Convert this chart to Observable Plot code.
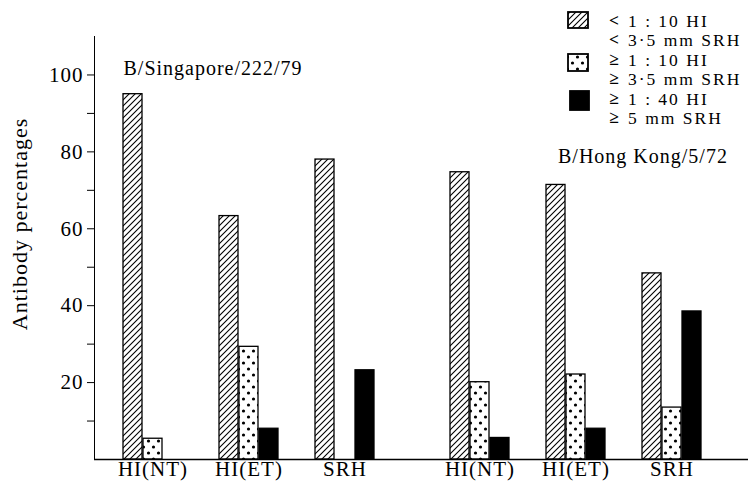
<!DOCTYPE html>
<html><head><meta charset="utf-8">
<script src="https://cdn.jsdelivr.net/npm/d3@7"></script>
<script src="https://cdn.jsdelivr.net/npm/@observablehq/plot@0.6"></script>
<style>
html,body{margin:0;padding:0;background:#fff;}
#chart{position:relative;width:748px;height:486px;overflow:hidden;font-family:"Liberation Serif",serif;}
</style></head><body>
<svg width="0" height="0" style="position:absolute">
<defs>
<pattern id="hatch" patternUnits="userSpaceOnUse" width="6" height="6">
<path d="M-1,1 L1,-1 M0,6 L6,0 M5,7 L7,5" stroke="#000" stroke-width="1.1" fill="none"/>
</pattern>
<pattern id="dots" patternUnits="userSpaceOnUse" width="10" height="12">
<circle cx="2.5" cy="3" r="1.6" fill="#000"/><circle cx="7.5" cy="9" r="1.6" fill="#000"/>
</pattern>
</defs></svg>
<div id="chart"></div>
<script>
const strains = ["B/Singapore/222/79", "B/Hong Kong/5/72"];
const tests = ["HI(NT)", "HI(ET)", "SRH"];
const levels = ["low", "mid", "high"];
// Singapore
const sgLow = [95, 63.3, 78];
const sgMid = [5.4, 29.3, 0];
const sgHigh = [0, 8, 23.2];
// Hong Kong
const hkLow = [74.7, 71.4, 48.4];
const hkMid = [20.1, 22.1, 13.5];
const hkHigh = [5.6, 8, 38.5];
const yTicks = [10, 20, 30, 40, 50, 60, 70, 80, 90, 100];
const yTickLabels = [20, 40, 60, 80, 100];
const yLabel = "Antibody percentages";
const legendSymbols = ["<", "<", "≥", "≥", "≥", "≥"];
const legendLines = ["1 : 10 HI", "3·5 mm SRH", "1 : 10 HI", "3·5 mm SRH", "1 : 40 HI", "5 mm SRH"];

const fills = {low: "url(#hatch)", mid: "url(#dots)", high: "#000"};
const insets = {low: [0, 40], mid: [20, 20], high: [40, 0]};

const rows = [];
strains.forEach((s, si) => {
  const arrs = si === 0 ? [sgLow, sgMid, sgHigh] : [hkLow, hkMid, hkHigh];
  levels.forEach((lv, li) => tests.forEach((t, ti) => rows.push({strain: s, test: t, level: lv, value: arrs[li][ti]})));
});

const plot = Plot.plot({
  width: 748, height: 486,
  marginLeft: 93, marginRight: 0, marginTop: 36, marginBottom: 27,
  style: {fontFamily: "Liberation Serif", fontSize: "21px", color: "#000", background: "#fff", letterSpacing: "1px"},
  fx: {domain: strains, padding: 0, axis: null, label: null},
  x: {domain: tests, paddingInner: 0.381, paddingOuter: 0.379, align: 0.38, tickSize: 0, tickPadding: 2, label: null},
  y: {domain: [0, 110], ticks: yTicks, tickFormat: d => yTickLabels.includes(d) ? String(d) : "", tickSize: 7, tickPadding: 4, label: null, line: true},
  marks: [
    ...levels.map(lv => Plot.barY(rows.filter(d => d.level === lv && d.value > 0), {
      fx: "strain", x: "test", y: "value", fill: fills[lv], stroke: "#000", strokeWidth: 1.3,
      insetLeft: insets[lv][0], insetRight: insets[lv][1]
    })),
    Plot.ruleY([0], {stroke: "#000", strokeWidth: 1.6}),
    Plot.text([strains[0]], {fx: d => d, text: d => d, frameAnchor: "top-left", textAnchor: "start", dx: 29, dy: 24, fontSize: 20}),
    Plot.text([strains[1]], {fx: d => d, text: d => d, frameAnchor: "top-left", textAnchor: "start", dx: 136.5, dy: 112, fontSize: 20}),
    Plot.text([yLabel], {fx: () => strains[0], text: d => d, frameAnchor: "left", rotate: -90, textAnchor: "middle", dx: -74.5, dy: -24, fontSize: 22})
  ]
});
document.getElementById("chart").appendChild(plot);

// legend
const leg = d3.select("#chart").append("svg")
  .attr("width", 748).attr("height", 486)
  .style("position", "absolute").style("left", "0px").style("top", "0px")
  .style("font-family", "Liberation Serif");
const sw = [
  {level: "low", x: 568, y: 12, w: 20, h: 16},
  {level: "mid", x: 568, y: 54, w: 20, h: 17},
  {level: "high", x: 570, y: 91, w: 19, h: 19}
];
leg.selectAll("rect").data(sw).join("rect")
  .attr("x", d => d.x).attr("y", d => d.y).attr("width", d => d.w).attr("height", d => d.h)
  .attr("fill", d => fills[d.level]).attr("stroke", "#000").attr("stroke-width", 1.8);
const baselines = [26.5, 46, 65.5, 85, 104.5, 124];
leg.selectAll("text.sym").data(legendSymbols).join("text").attr("class", "sym")
  .attr("x", 614).attr("y", (d, i) => baselines[i] - 1).attr("text-anchor", "middle")
  .attr("font-size", 17.5).attr("font-weight", "bold").text(d => d);
leg.selectAll("text.lab").data(legendLines).join("text").attr("class", "lab")
  .attr("x", 628).attr("y", (d, i) => baselines[i]).attr("font-size", 17.5)
  .style("letter-spacing", "2px").text(d => d);
</script>
</body></html>
